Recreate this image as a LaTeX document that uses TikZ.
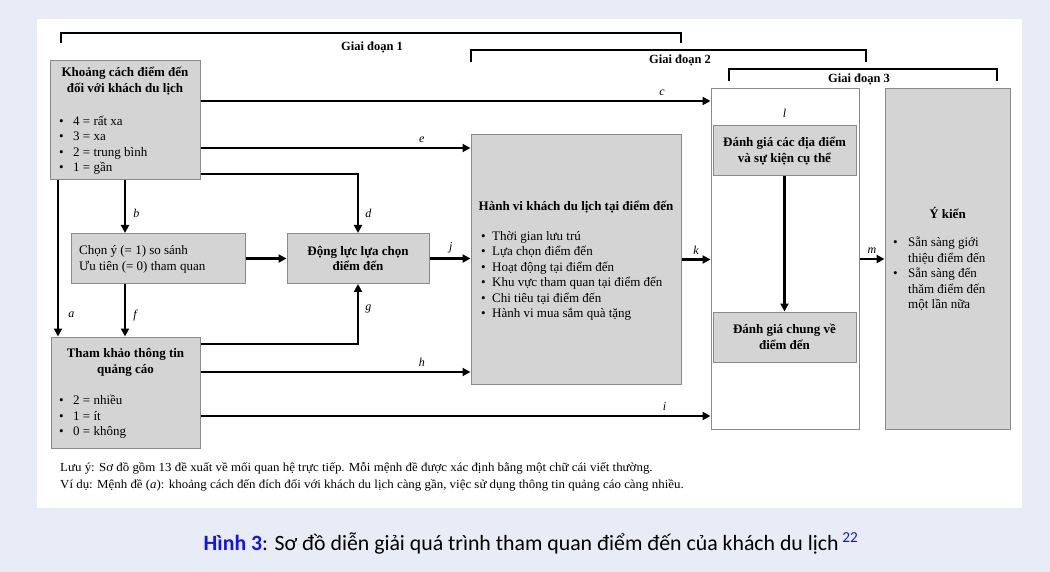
\documentclass[tikz,border=0pt]{standalone}
\usepackage{fontspec}
\setmainfont{Liberation Serif}
\newfontfamily\capfont{Carlito}
\newfontfamily\notefont[FakeStretch=1.05]{Liberation Serif}
\usetikzlibrary{arrows.meta,positioning,calc}
\definecolor{cPage}{HTML}{E8ECF6}
\definecolor{cBox}{HTML}{D4D4D4}
\definecolor{cEdge}{HTML}{8A8A8A}
\definecolor{cCap}{HTML}{1414E6}

\newcommand{\boxfont}{\fontsize{13}{15.5}\selectfont}
\newcommand{\bul}[2][12pt]{\makebox[#1][l]{\textbullet}#2}
\newcommand{\bulc}[2][12pt]{\hspace*{#1}#2}

\begin{document}
\begin{tikzpicture}[x=1pt, y=-1pt,
    box/.style={rectangle, draw=cEdge, line width=1pt, fill=cBox, inner sep=0pt},
    frame/.style={rectangle, draw=cEdge, line width=1pt, fill=white, inner sep=0pt},
    ttl/.style={font=\boxfont\bfseries, align=center, inner sep=0pt},
    txt/.style={font=\boxfont, align=left, anchor=west, inner sep=0pt},
    lbl/.style={font=\fontsize{12}{14}\selectfont\itshape, inner sep=1pt},
    arr/.style={-{Triangle[length=8pt,width=8pt]}, line width=2.5pt},
    phase/.style={font=\fontsize{12.5}{15}\selectfont\bfseries, inner sep=0pt},
    brk/.style={line width=1.6pt},
]

\useasboundingbox (0,0) rectangle (1050,572);
\fill[cPage] (0,0) rectangle (1050,572);
\draw[black!8, fill=white] (36,18) rectangle (1022,508);

% Phase brackets
\draw[brk] (61,43) -- (61,33) -- (681,33) -- (681,43);
\node[phase] (g1) at (372,47) {Giai đoạn 1};
\draw[brk] (471,62) -- (471,50) -- (866,50) -- (866,62);
\node[phase] (g2) at (680,60) {Giai đoạn 2};
\draw[brk] (729,81) -- (729,69) -- (997,69) -- (997,81);
\node[phase] (g3) at (859,79) {Giai đoạn 3};

% Phase 1
\node[box, minimum width=150pt, minimum height=119pt] (kc) at (125,120.5) {};
\node[ttl] (kcT) at (125,81) {Khoảng cách điểm đến\\đối với khách du lịch};
\node[txt] (kcL) at (59,145) {\bul[14pt]{4 = rất xa}\\\bul[14pt]{3 = xa}\\\bul[14pt]{2 = trung bình}\\\bul[14pt]{1 = gần}};

\node[box, minimum width=174pt, minimum height=50pt] (cy) at (158,258.5) {};
\node[txt] (cyT) at (79,259.5) {Chọn ý (= 1) so sánh\\Ưu tiên (= 0) tham quan};

\node[box, ttl, minimum width=142pt, minimum height=50pt] (dl) at (358,258.5) {Động lực lựa chọn\\điểm đến};

\node[box, minimum width=149pt, minimum height=111pt] (tk) at (125.5,392.5) {};
\node[ttl] (tkT) at (125.5,362.5) {Tham khảo thông tin\\quảng cáo};
\node[txt] (tkL) at (59,417) {\bul[14pt]{2 = nhiều}\\\bul[14pt]{1 = ít}\\\bul[14pt]{0 = không}};

% Phase 2
\node[box, minimum width=210pt, minimum height=249pt] (hv) at (576,259.5) {};
\node[ttl] (hvT) at (576,207) {Hành vi khách du lịch tại điểm đến};
\node[txt] (hvL) at (481,276) {\bul[11pt]{Thời gian lưu trú}\\\bul[11pt]{Lựa chọn điểm đến}\\\bul[11pt]{Hoạt động tại điểm đến}\\\bul[11pt]{Khu vực tham quan tại điểm đến}\\\bul[11pt]{Chi tiêu tại điểm đến}\\\bul[11pt]{Hành vi mua sắm quà tặng}};

% Phase 3
\node[frame, minimum width=148pt, minimum height=340pt] (dg) at (785,259) {};
\node[box, ttl, minimum width=143pt, minimum height=50pt] (dd) at (784.5,151) {Đánh giá các địa điểm\\và sự kiện cụ thể};
\node[box, ttl, minimum width=143pt, minimum height=50pt] (dc) at (784.5,337) {Đánh giá chung về\\điểm đến};
\node[lbl, above=7pt of dd] (ll) {l};

\node[box, minimum width=125pt, minimum height=340pt] (yk) at (947.5,259) {};
\node[ttl] (ykT) at (947.5,213) {Ý kiến};
\node[txt] (ykL) at (893,274) {\bul[15pt]{Sẵn sàng giới}\\\bulc[15pt]{thiệu điểm đến}\\\bul[15pt]{Sẵn sàng đến}\\\bulc[15pt]{thăm điểm đến}\\\bulc[15pt]{một lần nữa}};

% Connectors
\draw[arr] ([yshift=19.5pt]kc.east) -- ([yshift=19.5pt]kc.east -| dg.west) node[lbl, pos=0.905, above=3pt] (lc) {c};
\draw[arr] ([yshift=-27.5pt]kc.east) -- ([yshift=-27.5pt]kc.east -| hv.west) node[lbl, pos=0.82, above=3pt] (le) {e};
\draw[arr] ([yshift=-53.5pt]kc.east) -| (dl.north) node[lbl, pos=0.83, right=5pt] (ld) {d};
\draw[arr] (kc.south) -- (kc.south |- cy.north) node[lbl, pos=0.62, right=6pt] (lb) {b};
\draw[arr] ([xshift=-67pt]kc.south) -- ([xshift=-67pt]kc.south |- tk.north) node[lbl, pos=0.86, right=8pt] (la) {a};
\draw[arr] (kc.south |- cy.south) -- (kc.south |- tk.north) node[lbl, pos=0.6, right=6pt] (lf) {f};
\draw[arr] (cy.east) -- (dl.west);
\draw[arr] ([yshift=48.5pt]tk.east) -| (dl.south) node[lbl, pos=0.795, right=5pt] (lg) {g};
\draw[arr] ([yshift=20.5pt]tk.east) -- ([yshift=20.5pt]tk.east -| hv.west) node[lbl, pos=0.82, above=3pt] (lh) {h};
\draw[arr] ([yshift=-23.5pt]tk.east) -- ([yshift=-23.5pt]tk.east -| dg.west) node[lbl, pos=0.91, above=3pt] (li) {i};
\draw[arr] (dl.east) -- (dl.east -| hv.west) node[lbl, pos=0.52, above=3pt] (lj) {j};
\draw[arr] (hv.east) -- (hv.east -| dg.west) node[lbl, pos=0.5, above=3pt] (lk) {k};
\draw[arr] (dd.south) -- (dc.north);
\draw[arr] (dg.east) -- (dg.east -| yk.west) node[lbl, pos=0.5, above=3pt] (lm) {m};

% Note and caption
\node[font=\notefont\fontsize{12.3}{17}\selectfont, align=left, anchor=west, inner sep=0pt] (note) at (60,476.5) {Lưu ý: Sơ đồ gồm 13 đề xuất về mối quan hệ trực tiếp. Mỗi mệnh đề được xác định bằng một chữ cái viết thường.\\Ví dụ: Mệnh đề (\textit{a}): khoảng cách đến đích đối với khách du lịch càng gần, việc sử dụng thông tin quảng cáo càng nhiều.};
\node[font=\capfont\fontsize{21.8}{26}\selectfont, inner sep=0pt] (cap) at (531,543) {\textcolor{cCap}{\textbf{Hình 3}}: Sơ đồ diễn giải quá trình tham quan điểm đến của khách du lịch\,\textsuperscript{\textcolor{cCap}{22}}};

\end{tikzpicture}
\end{document}
